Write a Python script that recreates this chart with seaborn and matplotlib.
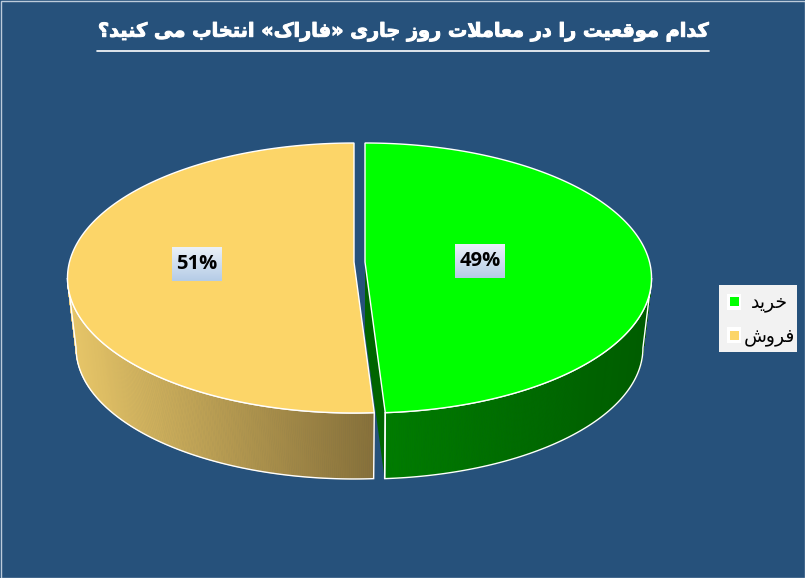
import numpy as np
import seaborn as sns
import matplotlib.pyplot as plt
import matplotlib.patheffects as pe
from matplotlib.patches import Polygon, Rectangle

# data
labels = ["خرید", "فروش"]
values = [49, 51]
title = "کدام موقعیت را در معاملات روز جاری «فاراک» انتخاب می کنید؟"

bg = "#26517b"
top_colors = ["#00ff00", "#fcd568"]
wall_colors = [["#007c00", "#005c00"], ["#e6c568", "#86703a"]]
cut_color = "#006400"

# forms: isolated, final, initial, medial (two-form letters do not join to the next one)
FORMS = {
    "ا": "\ufe8d\ufe8e", "د": "\ufea9\ufeaa", "ر": "\ufead\ufeae", "ز": "\ufeaf\ufeb0", "و": "\ufeed\ufeee",
    "ب": "\ufe8f\ufe90\ufe91\ufe92", "ت": "\ufe95\ufe96\ufe97\ufe98", "ج": "\ufe9d\ufe9e\ufe9f\ufea0",
    "خ": "\ufea5\ufea6\ufea7\ufea8", "ش": "\ufeb5\ufeb6\ufeb7\ufeb8", "ع": "\ufec9\ufeca\ufecb\ufecc",
    "ف": "\ufed1\ufed2\ufed3\ufed4", "ق": "\ufed5\ufed6\ufed7\ufed8", "ک": "\ufb8e\ufb8f\ufb90\ufb91",
    "ل": "\ufedd\ufede\ufedf\ufee0", "م": "\ufee1\ufee2\ufee3\ufee4", "ن": "\ufee5\ufee6\ufee7\ufee8",
    "ی": "\ufbfc\ufbfd\ufbfe\ufbff",
}
LAM_ALEF = "\ufefb\ufefc"


def shape_fa(text):
    # matplotlib has no shaping or bidi, so join the letters by hand and flip the string
    out = []
    i = 0
    prev_joins = False
    while i < len(text):
        ch = text[i]
        if ch == "ل" and text[i + 1:i + 2] == "ا":
            out.append(LAM_ALEF[1] if prev_joins else LAM_ALEF[0])
            prev_joins = False
            i += 2
            continue
        if ch not in FORMS:
            out.append({"«": "»", "»": "«"}.get(ch, ch))
            prev_joins = False
            i += 1
            continue
        f = FORMS[ch]
        next_ok = i + 1 < len(text) and text[i + 1] in FORMS
        if len(f) == 2:
            out.append(f[1] if prev_joins else f[0])
            prev_joins = False
        else:
            out.append(f[3] if prev_joins and next_ok else f[1] if prev_joins else f[2] if next_ok else f[0])
            prev_joins = next_ok
        i += 1
    return "".join(out[::-1])


sns.set_theme(style="white", rc={"figure.facecolor": bg, "axes.facecolor": bg})
fig = plt.figure(figsize=(8.05, 5.78), dpi=100)
ax = fig.add_axes([0, 0, 1, 1])
ax.set_xlim(0, 805)
ax.set_ylim(578, 0)
ax.axis("off")

# perspective of the disc
R, B, k = 284.5, 133.1, 0.1185
cy = 262
depth, shrink = 70.5, 0.97
centers = [365, 354]
widest = np.degrees(np.arccos(-k))


def project(deg, cx, lower=False):
    t = np.radians(deg)
    u, v = np.sin(t), np.cos(t)
    s = shrink if lower else 1
    y0 = cy + depth if lower else cy
    return cx + s * R * u / (1 + k * v), y0 - s * B * v / (1 + k * v)


def arc(a, b, cx, lower=False, n=200):
    x, y = project(np.linspace(a, b, n), cx, lower)
    return np.column_stack([x, y])


angles = np.cumsum([0] + values) / sum(values) * 360
spans = [(angles[0], angles[1]), (angles[1], angles[2])]
visible = [(widest, angles[1]), (angles[1], 360 - widest)]

for i in range(2):
    a, b = spans[i]
    cx = centers[i]
    va, vb = visible[i]

    # side wall, shaded strip by strip along x
    n = 240
    shades = sns.blend_palette(wall_colors[i], n)
    up = arc(va, vb, cx, n=n + 1)
    lo = arc(va, vb, cx, lower=True, n=n + 1)
    x_lo, x_hi = up[:, 0].min(), up[:, 0].max()
    for j in range(n):
        pos = int((up[j:j + 2, 0].mean() - x_lo) / (x_hi - x_lo) * (n - 1))
        quad = [up[j], up[j + 1], lo[j + 1], lo[j]]
        ax.add_patch(Polygon(quad, closed=True, fc=shades[pos], ec=shades[pos], lw=0.6, zorder=2))
    ax.add_patch(Polygon(np.vstack([up, lo[::-1]]), closed=True, fc="none", ec="white", lw=1, zorder=3))

    # inner face of the green slice shows through the gap
    if i == 0:
        front_top, front_low = up[-1], lo[-1]
        ax.add_patch(Polygon([(cx, cy), front_top, front_low, (cx, cy + depth)], closed=True,
                             fc=cut_color, ec="none", zorder=2.5))
        ax.plot([front_top[0], front_low[0]], [front_top[1], front_low[1]], color="white", lw=1, zorder=3)

    # top of the slice
    pts = np.vstack([[[cx, cy]], arc(a, b, cx, n=300)])
    ax.add_patch(Polygon(pts, closed=True, fc=top_colors[i], ec="white", lw=1, zorder=4))

# percent labels on their gradient boxes
label_pos = [(480, 261), (197, 264)]
box_shades = sns.blend_palette(["#eaf0f8", "#b5cce6"], 34)
for v, (x, y) in zip(values, label_pos):
    for r, c in enumerate(box_shades):
        ax.add_patch(Rectangle((x - 25, y - 17 + r), 50, 1.05, fc=c, ec="none", zorder=5))
    ax.text(x, y, f"{v}%", ha="center", va="center", fontsize=14.5, fontweight="bold",
            family="Open Sans", color="black", zorder=6)

# title
ax.text(404, 32, shape_fa(title), ha="center", va="center", fontsize=13.9, fontweight="bold",
        family="DejaVu Sans", color="white", zorder=6,
        path_effects=[pe.withStroke(linewidth=0.7, foreground="white")])
ax.plot([97, 709], [51, 51], color="white", lw=1.2, zorder=6)

# legend
ax.add_patch(Rectangle((719, 285), 78, 67, fc="#f2f2f2", ec="none", zorder=5))
for (name, c, y) in zip(labels, top_colors, [301.5, 335]):
    ax.add_patch(Rectangle((727, y - 8), 14, 16, fc="white", ec="none", zorder=6))
    ax.add_patch(Rectangle((729.5, y - 4.5), 9, 9, fc=c, ec="none", zorder=7))
    ax.text(769, y + 1, shape_fa(name), ha="center", va="center", fontsize=13.5,
            family="DejaVu Sans", color="black", zorder=7)

# thin light frame round the picture
ax.add_patch(Rectangle((0.5, 0.5), 804, 577, fc="none", ec="#bccbdb", lw=1, zorder=8))

fig.savefig("out.png", dpi=100, facecolor=bg)
